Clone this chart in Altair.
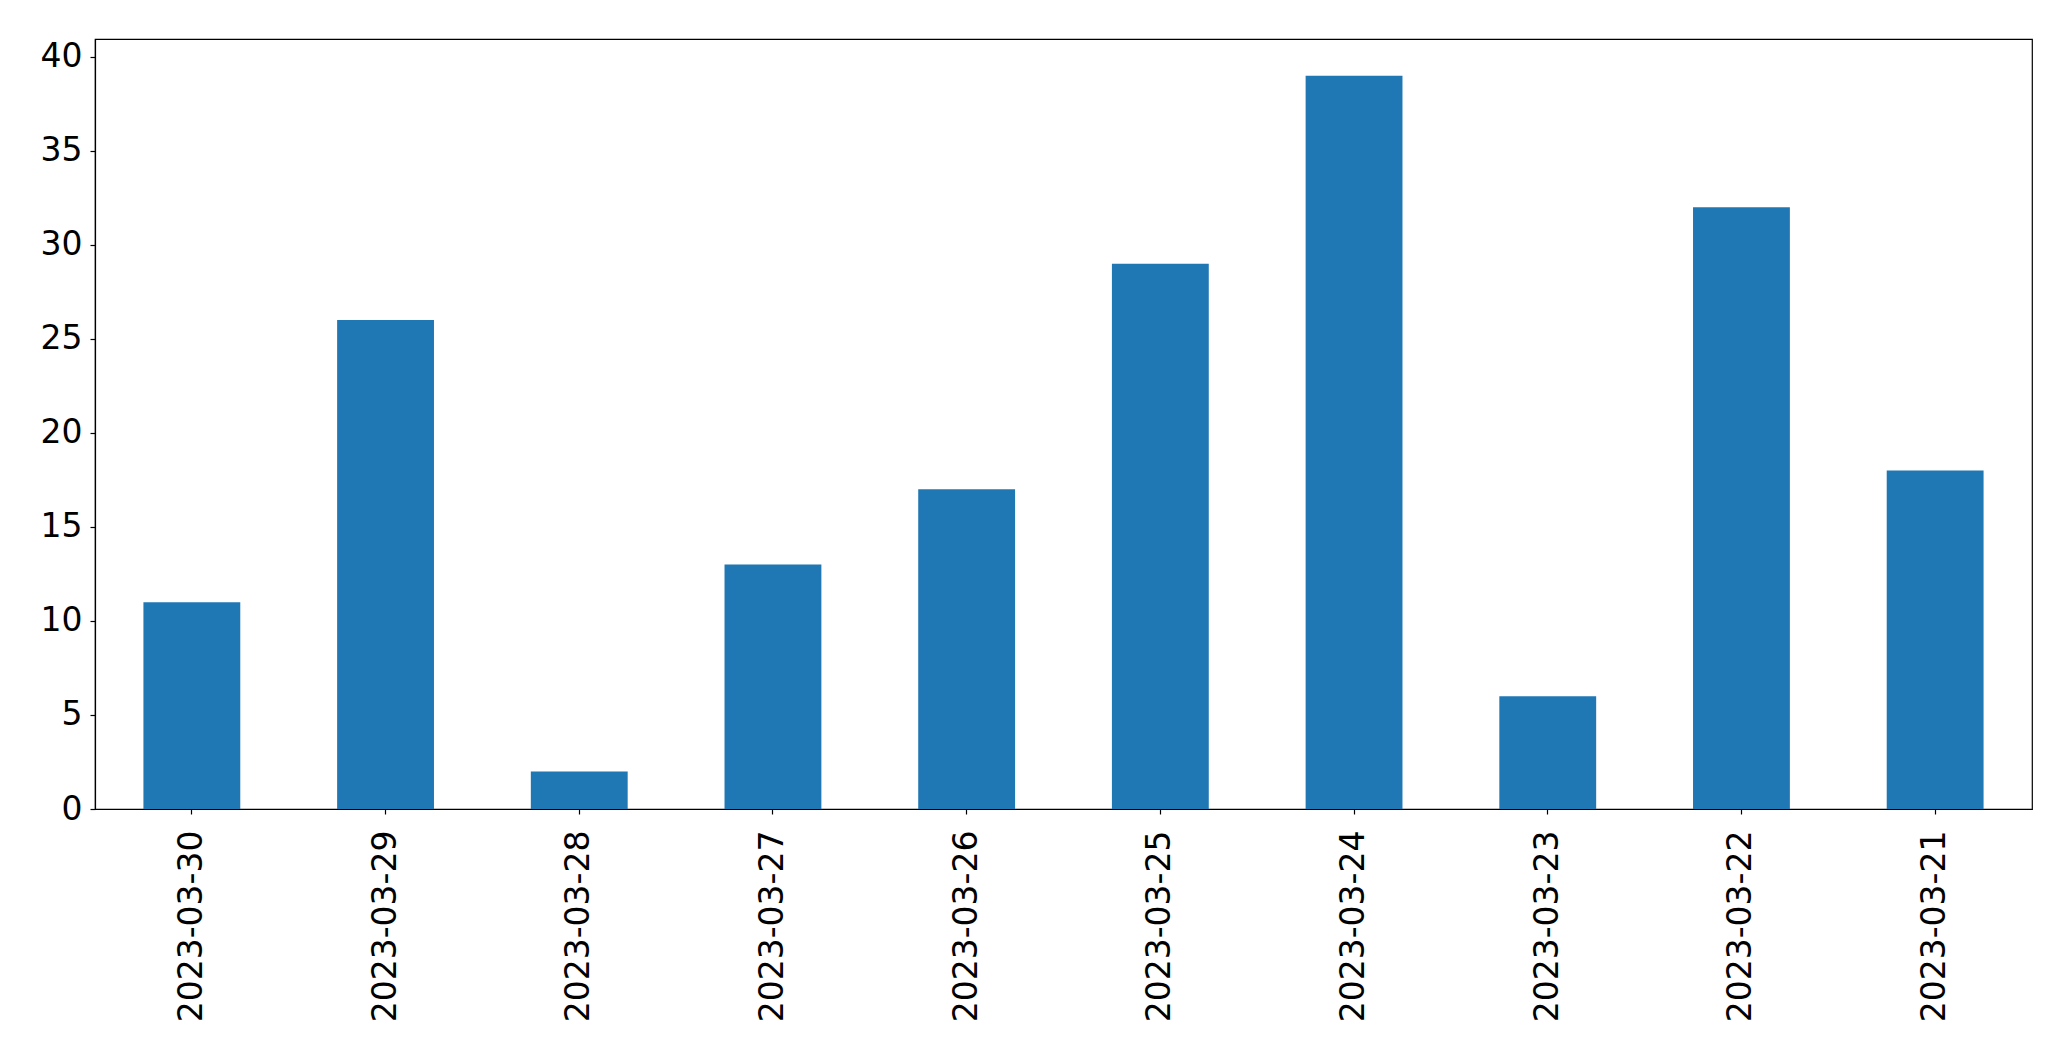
import altair as alt
import pandas as pd

dates = ["2023-03-30", "2023-03-29", "2023-03-28", "2023-03-27", "2023-03-26",
         "2023-03-25", "2023-03-24", "2023-03-23", "2023-03-22", "2023-03-21"]
counts = [11, 26, 2, 13, 17, 29, 39, 6, 32, 18]
y_ticks = [0, 5, 10, 15, 20, 25, 30, 35, 40]

df = pd.DataFrame({"date": dates, "count": counts})

chart = alt.Chart(df).mark_bar(color="#1f77b4").encode(
    x=alt.X("date:N", sort=None, title=None,
            scale=alt.Scale(paddingInner=0.5, paddingOuter=0.25),
            axis=alt.Axis(labelAngle=270, labelFontSize=33, labelFont="DejaVu Sans",
                          labelColor="black", tickColor="black", tickSize=5,
                          labelPadding=16, domainColor="black", domainWidth=1.2,
                          tickWidth=1.2, labelOverlap=False, labelLimit=1000)),
    y=alt.Y("count:Q", title=None,
            scale=alt.Scale(domain=[0, 40.95], nice=False, zero=True),
            axis=alt.Axis(values=y_ticks, labelFontSize=33, labelFont="DejaVu Sans",
                          labelColor="black", tickColor="black", tickSize=5,
                          labelPadding=8, grid=False, domainColor="black",
                          domainWidth=1.2, tickWidth=1.2, labelFlush=False)),
).properties(
    width=1937, height=770,
    autosize=alt.AutoSizeParams(type="none"),
    padding={"left": 87, "top": 31, "right": 31, "bottom": 244},
).configure(
    background="white",
    view=alt.ViewConfig(stroke="black", strokeWidth=1.2),
)

chart.save("out.html", embed_options={"renderer": "svg", "actions": False})
